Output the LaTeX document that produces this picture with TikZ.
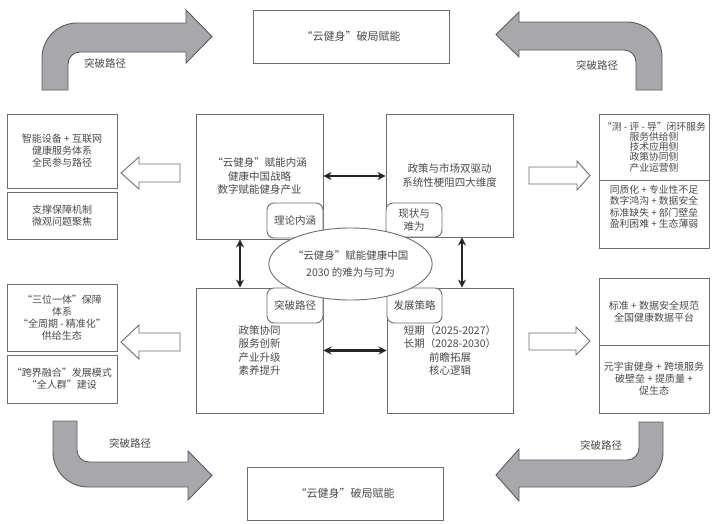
\documentclass[tikz,border=0pt]{standalone}
\usepackage{fontspec}
\setmainfont{Noto Sans CJK SC}
\usetikzlibrary{arrows.meta,shapes.geometric}
\definecolor{txt}{HTML}{4A4A4A}
\definecolor{bord}{HTML}{6E6E70}
\definecolor{bentfill}{HTML}{A8A8AA}
\definecolor{bentline}{HTML}{5A5A66}
\tikzset{
  box/.style={draw=bord, line width=0.9pt, fill=white, text=txt, align=center, inner sep=1pt,
    font=\fontsize{10.5}{13.5}\selectfont},
  sidebox/.style={box, font=\fontsize{10}{12}\selectfont},
  rbox/.style={draw=bord, line width=0.9pt, fill=white, text=txt, align=center, rounded corners=7pt,
    inner sep=1pt, font=\fontsize{10.5}{13}\selectfont},
  bent/.style={draw=bentline, line width=0.9pt, fill=bentfill},
  hollow/.style={draw=bord, line width=0.9pt, fill=white},
  dbl/.style={draw=black!85, line width=2.2pt, {Stealth[length=8pt,width=8pt]}-{Stealth[length=8pt,width=8pt]}},
  lbl/.style={text=txt, font=\fontsize{10.5}{12}\selectfont},
}
\begin{document}
\begin{tikzpicture}[x=1pt,y=-1pt]
\useasboundingbox (0,0) rectangle (712,523);
% top and bottom boxes
\node[box, minimum width=196, minimum height=53, font=\fontsize{11}{13}\selectfont] (top) at (351,36.5) {“云健身”破局赋能};
\node[box, minimum width=196, minimum height=53, font=\fontsize{11}{13}\selectfont] (bot) at (345,493.5) {“云健身”破局赋能};
% bent arrows
\draw[bent] (42,90) -- (42,58) .. controls (42,38.7) and (57.7,23) .. (77,23) -- (186,23) -- (186,10) -- (212,36.5) -- (186,63) -- (186,52) -- (80,52) .. controls (73.4,52) and (68,57.4) .. (68,64) -- (68,90) -- cycle;
\draw[bent] (662,90) -- (662,57) .. controls (662,37.7) and (646.3,22) .. (627,22) -- (519,22) -- (519,12) -- (496,34.5) -- (519,57) -- (519,50) -- (624,50) .. controls (630.6,50) and (636,55.4) .. (636,62) -- (636,90) -- cycle;
\draw[bent] (53,421) -- (53,452) .. controls (53,471.3) and (68.7,487) .. (88,487) -- (188,487) -- (188,500) -- (212,475.5) -- (188,451) -- (188,462) -- (89,462) .. controls (82.4,462) and (77,456.6) .. (77,450) -- (77,421) -- cycle;
\draw[bent] (663,422) -- (663,452) .. controls (663,471.3) and (647.3,487) .. (628,487) -- (519,487) -- (519,501) -- (496,475) -- (519,449) -- (519,460) -- (627,460) .. controls (633.6,460) and (639,454.6) .. (639,448) -- (639,422) -- cycle;
\node[lbl] (l1) at (105,63) {突破路径};
\node[lbl] (l2) at (597,65) {突破路径};
\node[lbl] (l3) at (130,443) {突破路径};
\node[lbl] (l4) at (601,445) {突破路径};
% left boxes
\node[sidebox, minimum width=110, minimum height=74] (L1) at (62,151) {智能设备 + 互联网\\健康服务体系\\全民参与路径};
\node[sidebox, minimum width=110, minimum height=47] (L2) at (62,215.5) {支撑保障机制\\微观问题聚焦};
\node[sidebox, minimum width=110, minimum height=67] (L3) at (62,317.5) {“三位一体”保障\\体系\\“全周期 - 精准化”\\供给生态};
\node[sidebox, minimum width=110, minimum height=48] (L4) at (62,379) {“跨界融合”发展模式\\“全人群”建设};
% right boxes
\node[sidebox, minimum width=110, minimum height=66, font=\fontsize{9.8}{10.2}\selectfont] (R1) at (654,147) {“测 - 评 - 导”闭环服务\\服务供给侧\\技术应用侧\\政策协同侧\\产业运营侧};
\node[sidebox, minimum width=110, minimum height=68, font=\fontsize{9.8}{11.4}\selectfont] (R2) at (654,214) {同质化 + 专业性不足\\数字鸿沟 + 数据安全\\标准缺失 + 部门壁垒\\盈利困难 + 生态薄弱\\[4pt]};
\node[sidebox, minimum width=110, minimum height=67] (R3) at (654,311.5) {标准 + 数据安全规范\\全国健康数据平台};
\node[sidebox, minimum width=110, minimum height=68] (R4) at (654,379) {元宇宙健身 + 跨境服务\\破壁垒 + 提质量 +\\促生态};
% hollow arrows
\draw[hollow] (180,164) -- (139,164) -- (139,157) -- (121,173) -- (139,189) -- (139,182) -- (180,182) -- cycle;
\draw[hollow] (180,333) -- (139,333) -- (139,325) -- (121,342) -- (139,359) -- (139,351) -- (180,351) -- cycle;
\draw[hollow] (529,167) -- (577,167) -- (577,161) -- (590,175.5) -- (577,190) -- (577,184) -- (529,184) -- cycle;
\draw[hollow] (529,333) -- (576,333) -- (576,327) -- (590,341) -- (576,355) -- (576,350) -- (529,350) -- cycle;
% central boxes
\node[box, minimum width=127, minimum height=125] (C1) at (259.5,176.5) {“云健身”赋能内涵\\健康中国战略\\数字赋能健身产业};
\node[box, minimum width=127, minimum height=123] (C2) at (449.5,175.5) {政策与市场双驱动\\系统性梗阻四大维度};
\node[box, minimum width=127, minimum height=125] (C3) at (259.5,350.5) {政策协同\\服务创新\\产业升级\\素养提升};
\node[box, minimum width=126, minimum height=125] (C4) at (450,350.5) {短期（2025-2027）\\长期（2028-2030）\\前瞻拓展\\核心逻辑};
\node[rbox, minimum width=56, minimum height=35] (S1) at (295,220.5) {理论内涵};
\node[rbox, minimum width=56, minimum height=34] (S2) at (414,220) {现状与\\难为};
\node[rbox, minimum width=56, minimum height=35] (S3) at (295,305.5) {突破路径};
\node[rbox, minimum width=55, minimum height=35] (S4) at (414.5,305.5) {发展策略};
\node[draw=bord, line width=0.9pt, fill=white, ellipse, text=txt, align=center, inner sep=0pt,
  minimum width=133, minimum height=72, font=\fontsize{10.5}{17}\selectfont] (E) at (350.5,264) {“云健身”赋能健康中国\\2030 的难为与可为};
% double arrows
\draw[dbl] ([yshift=0.5pt]C1.east) -- ([yshift=0.5pt]C1.east -| C2.west);
\draw[dbl] (C3.east) -- (C3.east -| C4.west);
\draw[dbl] ([xshift=-19.5pt]C1.south) -- ([xshift=-19.5pt]C3.north);
\draw[dbl] ([xshift=12.5pt]C2.south) -- ([xshift=12pt]C4.north);
\end{tikzpicture}
\end{document}
